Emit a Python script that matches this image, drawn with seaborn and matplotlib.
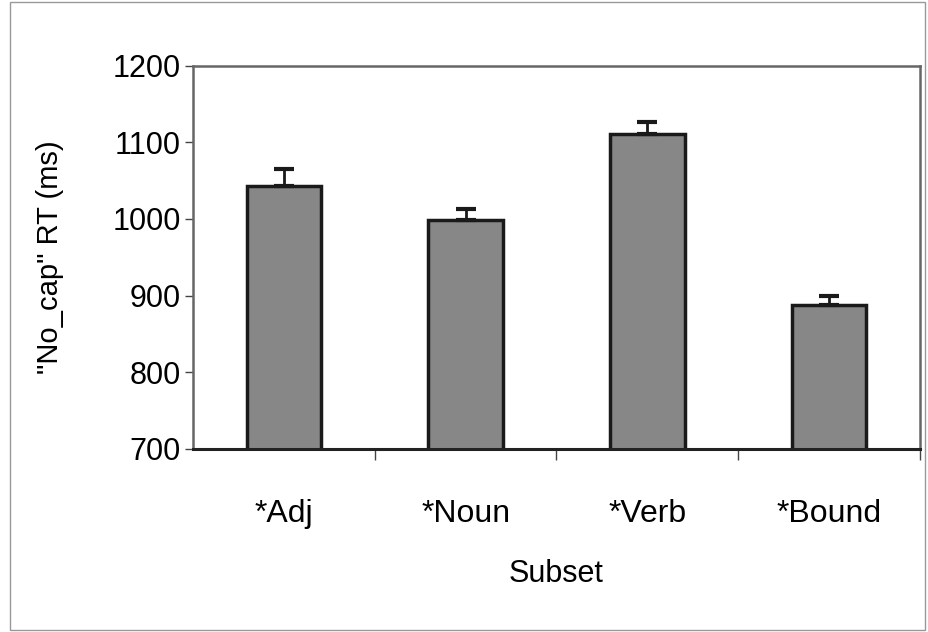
import numpy as np
import pandas as pd
import matplotlib
matplotlib.use("Agg")
import matplotlib.pyplot as plt
import seaborn as sns

# data
subsets = ["*Adj", "*Noun", "*Verb", "*Bound"]
rt_means = [1043, 998, 1111, 888]
rt_errs = [22, 15, 15, 11]

sns.set_theme(style="white")
plt.rcParams["font.family"] = ["Liberation Sans Narrow", "Liberation Sans", "DejaVu Sans"]
plt.rcParams["text.color"] = "black"
plt.rcParams["axes.labelcolor"] = "black"
plt.rcParams["xtick.color"] = "black"
plt.rcParams["ytick.color"] = "black"

df = pd.DataFrame({"Subset": subsets, "RT": rt_means})

fig = plt.figure(figsize=(9.29, 6.32), dpi=100)
ax = fig.add_axes([0.208, 0.290, 0.782, 0.606])

sns.barplot(data=df, x="Subset", y="RT", color="#878787", width=0.41,
            edgecolor="#1a1a1a", linewidth=2.5, saturation=1, ax=ax)

# one-sided (upper) error bars
ax.errorbar(np.arange(len(subsets)), rt_means,
            yerr=[np.zeros(len(rt_errs)), rt_errs],
            fmt="none", ecolor="#1a1a1a", elinewidth=2, capsize=7, capthick=3)

ax.set_ylim(700, 1200)
ax.set_xlim(-0.5, 3.5)
ax.set_yticks([700, 800, 900, 1000, 1100, 1200])
ax.tick_params(axis="y", labelsize=22, length=6, width=1, color="#444", direction="out", left=True, pad=3)

# category labels at centres, tick marks at the boundaries
ax.set_xticks([0.5, 1.5, 2.5, 3.5])
ax.set_xticklabels([])
ax.set_xticks(np.arange(len(subsets)), minor=True)
ax.set_xticklabels(subsets, minor=True)
ax.tick_params(axis="x", which="major", length=8, width=1, color="#444", direction="out", bottom=True)
ax.tick_params(axis="x", which="minor", length=0, labelsize=23, pad=36)

ax.set_xlabel("Subset", fontsize=22, labelpad=22)
ax.set_ylabel('"No_cap" RT (ms)', fontsize=21, labelpad=35)

for side in ["top", "right", "left"]:
    ax.spines[side].set_color("#666")
    ax.spines[side].set_linewidth(1.8)
ax.spines["bottom"].set_color("#222")
ax.spines["bottom"].set_linewidth(2.2)

# thin frame around the whole figure
fig.patches.append(plt.Rectangle((0.011, 0.003), 0.985, 0.994, transform=fig.transFigure,
                                 fill=False, edgecolor="#999", linewidth=1))

fig.savefig("out.png", dpi=100)
